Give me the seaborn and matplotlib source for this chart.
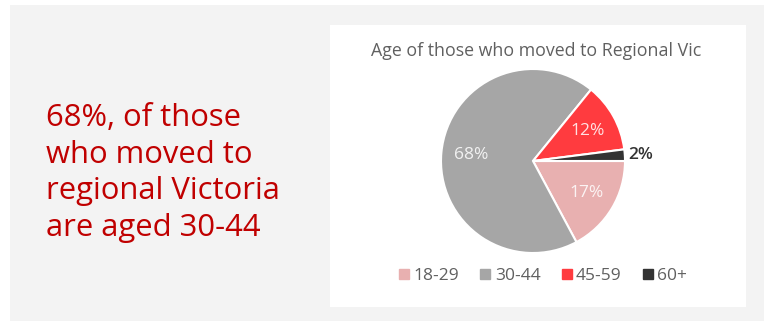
import matplotlib
matplotlib.use("Agg")
import matplotlib.pyplot as plt
import matplotlib.patches as mpatches
from matplotlib.lines import Line2D
import numpy as np
import seaborn as sns

# Age groups of people who moved to regional Victoria
age_groups = ["18-29", "30-44", "45-59", "60+"]
shares = [17, 68, 12, 2]
slice_colors = ["#e8b0b0", "#a6a6a6", "#ff3b3f", "#333333"]

chart_title = "Age of those who moved to Regional Vic"
headline = "68%, of those\nwho moved to\nregional Victoria\nare aged 30-44"

sns.set_theme(style="white")
plt.rcParams["font.family"] = ["Open Sans", "DejaVu Sans"]

W, H = 764, 321
fig = plt.figure(figsize=(W / 100, H / 100), dpi=100)
fig.patch.set_facecolor("white")

def px_rect(x0, y0, x1, y1, color):
    # rectangle given in pixel coordinates measured from the top-left corner
    fig.add_artist(mpatches.Rectangle((x0 / W, 1 - y1 / H), (x1 - x0) / W, (y1 - y0) / H,
                                      transform=fig.transFigure, facecolor=color,
                                      edgecolor="none", zorder=0))

px_rect(10, 5, W, H, "#f3f3f3")
px_rect(330, 25, 746, 307, "white")

# headline text on the left
fig.text(46 / W, 1 - 173 / H, headline, color="#c00000", fontsize=22.3,
         ha="left", va="center", linespacing=1.28)

# chart title
fig.text(536 / W, 1 - 51 / H, chart_title, color="#606060", fontsize=12.8,
         ha="center", va="center")

# pie axes
cx, cy, r = 533, 161, 92
ax = fig.add_axes([(cx - r) / W, 1 - (cy + r) / H, 2 * r / W, 2 * r / H])
wedges, _ = ax.pie(shares, colors=slice_colors, startangle=0, counterclock=False,
                   radius=1, wedgeprops=dict(edgecolor="white", linewidth=1.5))
ax.set_xlim(-1, 1)
ax.set_ylim(-1, 1)
ax.set_aspect("equal")
ax.axis("off")

for w, v in zip(wedges, shares):
    mid = np.deg2rad((w.theta1 + w.theta2) / 2)
    label = f"{v}%"
    if v < 5:
        ax.text(1.03 * np.cos(mid) + 0.01, 1.03 * np.sin(mid), label, ha="left", va="center",
                fontsize=12.5, color="#333333", fontweight="semibold")
    else:
        ax.text(0.68 * np.cos(mid), 0.68 * np.sin(mid), label, ha="center", va="center",
                fontsize=12.5, color="white", alpha=0.85)

handles = [Line2D([0], [0], marker="s", linestyle="none", markersize=6.5,
                  markerfacecolor=c, markeredgecolor=c) for c in slice_colors]
fig.legend(handles, age_groups, loc="center", bbox_to_anchor=(543 / W, 1 - 276 / H),
           ncol=4, frameon=False, fontsize=12.5, labelcolor="#606060",
           handletextpad=0.25, columnspacing=1.2, handlelength=0.6)

fig.savefig("out.png", dpi=100)
